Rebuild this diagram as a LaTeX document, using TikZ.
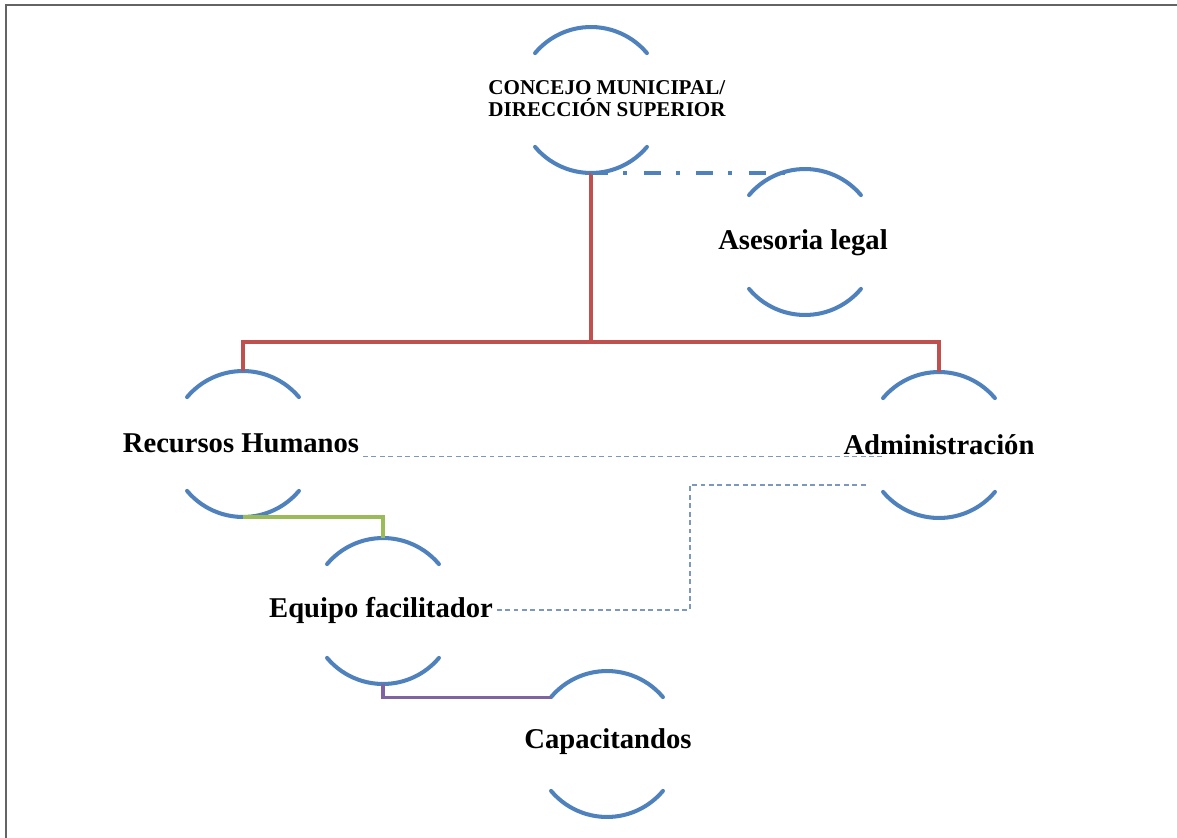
\documentclass[tikz,border=0pt]{standalone}
\usepackage{fontspec}
\setmainfont{Liberation Serif}
\usetikzlibrary{calc}

\definecolor{ringblue}{RGB}{79,129,189}
\definecolor{chainred}{RGB}{192,80,77}
\definecolor{chaingreen}{RGB}{155,187,89}
\definecolor{chainpurple}{RGB}{128,100,162}
\definecolor{liaisongray}{RGB}{125,152,190}
\definecolor{framegray}{RGB}{100,100,100}

\begin{document}
\begin{tikzpicture}[
x=0.02cm, y=0.02cm,
unit/.style={circle, minimum size=2.92cm, inner sep=0pt, outer sep=0pt},
unitname/.style={font=\bfseries\fontsize{16.3}{19}\selectfont, inner sep=2pt},
headname/.style={font=\bfseries\fontsize{12}{12.6}\selectfont, inner sep=2pt, align=left},
ring/.style={draw=ringblue, line width=2.3pt, line cap=round},
hier/.style={draw=chainred, line width=1.8pt},
advice/.style={draw=ringblue, line width=2.2pt, dash pattern=on 9.6pt off 8.5pt on 2.3pt off 9.6pt},
liaison/.style={draw=liaisongray, line width=0.8pt, dash pattern=on 2.8pt off 2pt},
frame/.style={draw=framegray, line width=1.1pt} ]

\useasboundingbox (0,0) rectangle (1177,-838);

\draw[frame] (6,-838) -- (6,-5) -- (1177,-5);

% units
\node[unit](concejo) at (591,-100) {};

\node[unit](asesoria) at (805,-242) {};

\node[unit](rrhh) at (243,-444) {};

\node[unit](admin) at (939,-445) {};

\node[unit](equipo) at (383,-611) {};

\node[unit](capac) at (607,-744) {};

\foreach \u in {concejo,asesoria,rrhh,admin,equipo,capac}{
\draw[ring] (\u.40) arc[start angle=40, end angle=140, radius=1.46cm];
\draw[ring] (\u.220) arc[start angle=220, end angle=320, radius=1.46cm];
}

% names
\node[headname](concejotxt) at (607,-99) {CONCEJO MUNICIPAL/\\DIRECCIÓN SUPERIOR};

\node[unitname](asesoriatxt) at (803,-243) {Asesoria legal};

\node[unitname](rrhhtxt) at (241,-443) {Recursos Humanos};

\node[unitname](admintxt) at (939,-445) {Administración};

\node[unitname](equipotxt) at (381,-610) {Equipo facilitador};

\node[unitname](capactxt) at (608,-742) {Capacitandos};

% lines
\coordinate (split) at (591,-342);

\coordinate (elbow) at (690,-485);

\draw[hier] (concejo.south) -- (split);

\draw[hier] (split) -| (rrhh.north);

\draw[hier] (split) -| (admin.north);

\draw[advice] (concejo.south) -- ([xshift=-0.2cm]concejo.south -| asesoria.north);

\draw[draw=chaingreen, line width=1.8pt] (rrhh.south) -| (equipo.north);

\draw[draw=chainpurple, line width=1.8pt] (equipo.south) |- (capac.140);

\draw[liaison] (rrhhtxt.south east) -- ([xshift=0.32cm]admin.west |- rrhhtxt.south east);

\draw[liaison] (equipotxt.east) -| (elbow) -- (elbow -| admin.west);
\end{tikzpicture}
\end{document}
